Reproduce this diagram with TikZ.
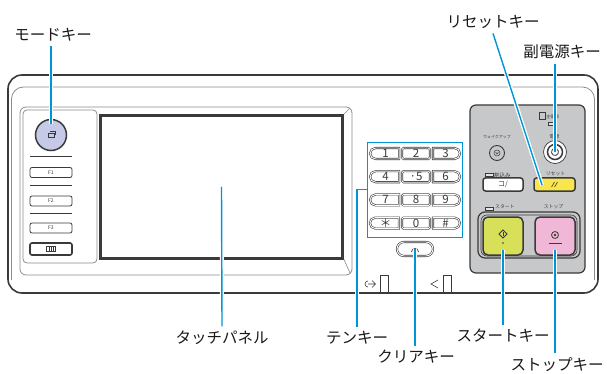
\documentclass[tikz,border=0pt]{standalone}
\usepackage{fontspec}
\usepackage{xcolor}
\newfontfamily\jp{Noto Sans CJK JP}
\usetikzlibrary{shapes.misc}
\definecolor{leadblue}{RGB}{0,150,214}
\definecolor{darkline}{RGB}{58,58,58}
\definecolor{lightline}{RGB}{140,140,140}
\definecolor{panelgray}{RGB}{199,200,202}
\definecolor{modeblue}{RGB}{198,202,232}
\definecolor{startgreen}{RGB}{216,224,90}
\definecolor{stoppink}{RGB}{240,184,214}
\definecolor{resetyellow}{RGB}{248,230,76}

\begin{document}
\begin{tikzpicture}[x=1pt, y=-1pt,
    partname/.style={font=\jp\fontsize{15.5}{16}\selectfont, text=black!90, inner sep=4.5pt},
    smalltxt/.style={font=\jp\fontsize{4.8}{5}\selectfont, text=darkline, inner sep=0pt},
    lead/.style={draw=leadblue, line width=1.4pt, preaction={draw=white, line width=4pt}},
    fkey/.style={draw=darkline, line width=0.8pt, rounded corners=2pt, minimum width=42pt, minimum height=10pt, inner sep=0pt, font=\jp\fontsize{5}{5}\selectfont, text=darkline},
    numkey/.style={draw=darkline, double=white, double distance=0.9pt, line width=0.6pt, minimum height=11pt, inner sep=0pt, font=\jp\fontsize{11.5}{11.5}\selectfont, text=darkline},
    leftkey/.style={numkey, rounded rectangle, rounded rectangle east arc=none, minimum width=29pt},
    midkey/.style={numkey, rectangle, rounded corners=1.5pt, minimum width=28pt},
    rightkey/.style={numkey, rounded rectangle, rounded rectangle west arc=none, minimum width=27pt},
    hardkey/.style={draw=darkline, line width=1.5pt, rounded corners=2.5pt, minimum width=40pt, minimum height=13pt, inner sep=0pt},
    bigkey/.style={draw=darkline, line width=1.5pt, rounded corners=5pt, minimum width=40pt, minimum height=38pt, inner sep=0pt},
    lamp/.style={draw=darkline, line width=0.6pt, fill=panelgray!50, minimum width=8pt, minimum height=3pt, inner sep=0pt}
]
    \useasboundingbox (0,0) rectangle (607,374);

    \draw[lightline, line width=0.8pt, rounded corners=12pt] (11.5,280) -- (11.5,87) -- (594.5,87) -- (594.5,280);
    \draw[darkline, line width=1.6pt, rounded corners=14pt] (8,75) rectangle (598,293);
    \draw[lightline, line width=0.8pt, rounded corners=6pt] (20,107) rectangle (352,275);
    \draw[lightline, line width=0.8pt, rounded corners=4pt] (23,110) rectangle (97,263);

    \node[draw=darkline, line width=3pt, minimum width=242pt, minimum height=142.5pt, inner sep=0pt] (screen) at (221.5,186.75) {};
    \draw[lightline, line width=0.6pt] (screen.north east) -- (350,108);
    \draw[lightline, line width=0.6pt] (screen.south east) -- (350,273);

    \node[circle, draw=darkline, line width=1.5pt, fill=modeblue, minimum size=31pt, inner sep=0pt] (modekey) at (51,135) {};
    \draw[darkline, line width=0.6pt] (48,133) rectangle (54,137.5);
    \draw[darkline, line width=0.5pt] (49.5,131) -- (55.5,131) -- (55.5,135);
    \foreach \y in {157,185,213}
        \draw[darkline, line width=1pt] (30,\y) -- (72,\y);
    \node[fkey] (fone) at (51,172.5) {F1};
    \node[fkey] (ftwo) at (51,201) {F2};
    \node[fkey] (fthree) at (51,228) {F3};
    \node[fkey, line width=1.6pt, minimum height=12pt] (counterkey) at (51,249) {};
    \draw[darkline, line width=0.5pt] (46.5,246.5) rectangle (55.5,251.5);
    \foreach \x in {49,51,53}
        \draw[darkline, line width=0.4pt] (\x,246.5) -- (\x,251.5);

    \node[draw=leadblue, line width=0.9pt, minimum width=95pt, minimum height=95pt, inner sep=0pt] (keypad) at (414.5,189.5) {};
    \foreach \a/\b/\c [count=\i from 0] in {1/2/3, 4/{·5}/6, 7/8/9, {＊}/0/\#} {
        \node[leftkey] (keyl\i) at (385.5,{153.5+23.2*\i}) {\a};
        \node[midkey] (keym\i) at (416,{153.5+23.2*\i}) {\b};
        \node[rightkey] (keyr\i) at (445.5,{153.5+23.2*\i}) {\c};
    }
    \node[numkey, rounded rectangle, minimum width=36pt, minimum height=14pt] (clearkey) at (415,249) {};
    \draw[darkline, line width=0.7pt] (411.5,252) arc (180:360:3.5);

    \draw[darkline, line width=0.6pt] (368,281) arc (270:90:3);
    \draw[darkline, line width=0.6pt] (368,284) -- (375,284) (372,280.5) -- (375.5,284) -- (372,287.5);
    \draw[darkline, line width=0.8pt] (380.5,293) -- (380.5,275) -- (388.5,275) -- (388.5,293);
    \draw[darkline, line width=0.6pt] (438,280) -- (431,284) -- (438,288);
    \draw[darkline, line width=0.8pt] (443.5,293) -- (443.5,275) -- (451.5,275) -- (451.5,293);

    \draw[darkline, line width=1.2pt, fill=panelgray, rounded corners=6pt] (470,105) rectangle (585,273);
    \draw[darkline, line width=0.6pt] (539,112) rectangle (545,119);
    \node[smalltxt, font=\jp\fontsize{4.3}{4.5}\selectfont] (mainpowertxt) at (552.5,116.5) {主電源};
    \node[lamp, minimum width=6pt] (mainlamp) at (551.5,123.5) {};
    \node[smalltxt] (powertxt) at (554.5,137) {電源};
    \node[circle, draw=darkline, line width=0.7pt, fill=white, minimum size=23pt, inner sep=0pt] (powerkey) at (555,152) {};
    \draw[darkline, line width=1.5pt] (powerkey.center) circle (7.5);
    \draw[darkline, line width=0.8pt] (powerkey.center) ++(300:3.5) arc (300:600:3.5);
    \draw[darkline, line width=0.8pt] (powerkey.center) -- ++(0,-5);

    \node[smalltxt, font=\jp\fontsize{4}{4}\selectfont] (waketxt) at (497,137) {ウェイクアップ};
    \node[circle, draw=darkline, line width=0.9pt, minimum size=15pt, inner sep=0pt] (wakekey) at (497,153) {};
    \draw[darkline, line width=0.5pt] (wakekey.center) circle (3);
    \draw[darkline, line width=0.5pt] (495.5,152) -- (497,154) -- (498.5,152);

    \node[lamp] (intlamp) at (489,175) {};
    \node[smalltxt, anchor=west, font=\jp\fontsize{5.5}{6}\selectfont] (inttxt) at (494,175) {割込み};
    \node[hardkey, fill=white, font=\jp\fontsize{7}{7}\selectfont, text=darkline] (intkey) at (503,184.5) {コ/};
    \node[smalltxt] (resettxt) at (555.5,174) {リセット};
    \node[hardkey, fill=resetyellow, minimum width=41pt] (resetkey) at (554.5,184.5) {};
    \draw[darkline, line width=0.6pt] (551.5,187) -- (554.5,182) (554.5,187) -- (557.5,182);

    \node[lamp] (startlamp) at (489,208.5) {};
    \node[smalltxt, anchor=west] (starttxt) at (495,207) {スタート};
    \node[smalltxt] (stoptxt) at (553.5,207) {ストップ};
    \draw[darkline, line width=1.2pt, rounded corners=7pt] (478,212) rectangle (580,258);
    \draw[darkline, line width=0.6pt, rounded corners=6pt] (481,215) rectangle (577,256);
    \node[bigkey, fill=startgreen] (startkey) at (503,236) {};
    \draw[darkline, line width=0.8pt] (503,230) -- (507,234) -- (503,238) -- (499,234) -- cycle;
    \draw[darkline, line width=0.8pt] (503,232) -- (503,235.5);
    \fill[darkline] (503,243) circle (0.9);
    \node[bigkey, fill=stoppink] (stopkey) at (555,236) {};
    \draw[darkline, line width=0.8pt] (555,235) circle (3.5);
    \fill[darkline] (555,235) circle (1.3);
    \draw[darkline, line width=1pt] (548.5,243) -- (561.5,243);

    \coordinate (modetip) at (51,124);
    \coordinate (resettip) at (542,185);
    \coordinate (starttip) at (503,250);
    \coordinate (stoptip) at (555,250);

    \node[partname] (modelabel) at (53,35) {モードキー};
    \node[partname] (resetlabel) at (493,22) {リセットキー};
    \node[partname] (powerlabel) at (562,52) {副電源キー};
    \node[partname] (panellabel) at (222,338) {タッチパネル};
    \node[partname] (tenkeylabel) at (357,338) {テンキー};
    \node[partname] (clearlabel) at (416,357) {クリアキー};
    \node[partname] (startlabel) at (503,336) {スタートキー};
    \node[partname] (stoplabel) at (557,365) {ストップキー};

    \draw[lead] (modekey |- modelabel.south) -- (modetip);
    \draw[lead] (resetlabel.south) -- (resettip);
    \draw[lead] (powerkey |- powerlabel.south) -- (powerkey.center);
    \draw[lead] (panellabel.north) -- (screen.center);
    \draw[lead] (tenkeylabel.north) |- (keypad.west);
    \draw[lead] (clearkey |- clearlabel.north) -- (clearkey.center);
    \draw[lead] (startkey |- startlabel.north) -- (starttip);
    \draw[lead] (stopkey |- stoplabel.north) -- (stoptip);
\end{tikzpicture}
\end{document}
